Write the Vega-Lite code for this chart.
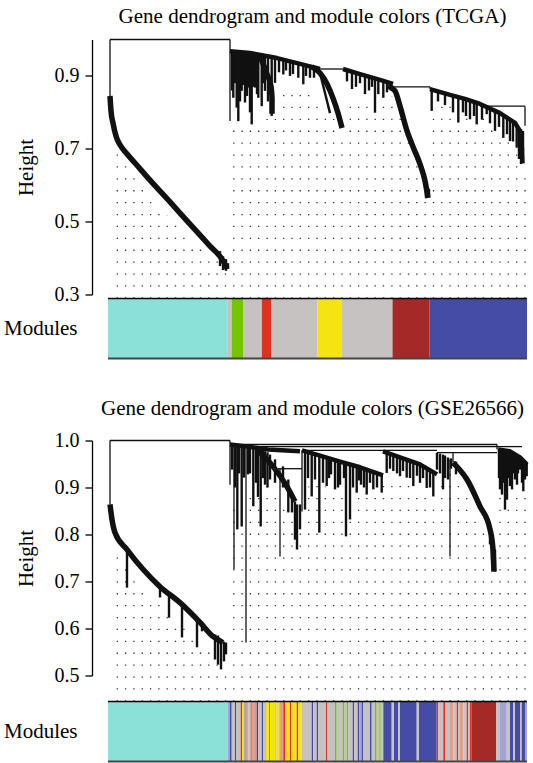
{
  "$schema": "https://vega.github.io/schema/vega-lite/v6.json",
  "padding": {"left": 3, "top": 5.5, "right": 0, "bottom": 0},
  "background": "white",
  "config": {"view": {"stroke": null}, "axis": {"grid": false}},
  "datasets": {
    "s1": [
      {"kind":"thin","x":2,"x2":122,"y":1.0,"y2":1.0},
      {"kind":"thin","x":2,"x2":2,"y":1.0,"y2":0.845},
      {"kind":"thin","x":122,"x2":122,"y":1.0,"y2":0.776},
      {"kind":"thin","x":212,"x2":235,"y":0.919,"y2":0.919},
      {"kind":"thin","x":285,"x2":322,"y":0.870,"y2":0.870},
      {"kind":"thin","x":322,"x2":322,"y":0.870,"y2":0.864},
      {"kind":"thin","x":372,"x2":417,"y":0.817,"y2":0.817},
      {"kind":"thin","x":417,"x2":417,"y":0.817,"y2":0.763},
      {"kind":"leaf","x":124,"x2":124,"y":0.967,"y2":0.86},
      {"kind":"leaf","x":125.3,"x2":125.3,"y":0.968,"y2":0.840},
      {"kind":"leaf","x":127,"x2":127,"y":0.967,"y2":0.88},
      {"kind":"leaf","x":128.7,"x2":128.7,"y":0.966,"y2":0.813},
      {"kind":"leaf","x":130.3,"x2":130.3,"y":0.964,"y2":0.776},
      {"kind":"leaf","x":132,"x2":132,"y":0.966,"y2":0.83},
      {"kind":"leaf","x":133.7,"x2":133.7,"y":0.963,"y2":0.859},
      {"kind":"leaf","x":135,"x2":135,"y":0.965,"y2":0.875},
      {"kind":"leaf","x":137,"x2":137,"y":0.963,"y2":0.827},
      {"kind":"leaf","x":139,"x2":139,"y":0.964,"y2":0.845},
      {"kind":"leaf","x":140.3,"x2":140.3,"y":0.962,"y2":0.868},
      {"kind":"leaf","x":142,"x2":142,"y":0.963,"y2":0.80},
      {"kind":"leaf","x":143.7,"x2":143.7,"y":0.960,"y2":0.767},
      {"kind":"leaf","x":145,"x2":145,"y":0.961,"y2":0.87},
      {"kind":"leaf","x":147,"x2":147,"y":0.957,"y2":0.868},
      {"kind":"leaf","x":149,"x2":149,"y":0.959,"y2":0.85},
      {"kind":"leaf","x":150.3,"x2":150.3,"y":0.955,"y2":0.840},
      {"kind":"leaf","x":153.7,"x2":153.7,"y":0.952,"y2":0.817},
      {"kind":"leaf","x":155,"x2":155,"y":0.956,"y2":0.88},
      {"kind":"leaf","x":157,"x2":157,"y":0.951,"y2":0.859},
      {"kind":"leaf","x":160,"x2":160,"y":0.953,"y2":0.83},
      {"kind":"leaf","x":163.7,"x2":163.7,"y":0.949,"y2":0.790},
      {"kind":"leaf","x":167,"x2":167,"y":0.951,"y2":0.881},
      {"kind":"leaf","x":171,"x2":171,"y":0.948,"y2":0.91},
      {"kind":"leaf","x":175.3,"x2":175.3,"y":0.945,"y2":0.904},
      {"kind":"leaf","x":178,"x2":178,"y":0.943,"y2":0.915},
      {"kind":"leaf","x":182,"x2":182,"y":0.940,"y2":0.900},
      {"kind":"leaf","x":185,"x2":185,"y":0.938,"y2":0.905},
      {"kind":"leaf","x":190.3,"x2":190.3,"y":0.934,"y2":0.895},
      {"kind":"leaf","x":195.3,"x2":195.3,"y":0.930,"y2":0.877},
      {"kind":"leaf","x":198,"x2":198,"y":0.929,"y2":0.90},
      {"kind":"leaf","x":202,"x2":202,"y":0.926,"y2":0.895},
      {"kind":"leaf","x":206,"x2":206,"y":0.923,"y2":0.895},
      {"kind":"leaf","x":212,"x2":222,"y":0.908,"y2":0.798},
      {"kind":"leaf","x":239,"x2":239,"y":0.916,"y2":0.885},
      {"kind":"leaf","x":244,"x2":244,"y":0.911,"y2":0.864},
      {"kind":"leaf","x":248,"x2":248,"y":0.908,"y2":0.87},
      {"kind":"leaf","x":252,"x2":252,"y":0.905,"y2":0.88},
      {"kind":"leaf","x":257,"x2":257,"y":0.901,"y2":0.850},
      {"kind":"leaf","x":261,"x2":261,"y":0.898,"y2":0.86},
      {"kind":"leaf","x":264,"x2":264,"y":0.895,"y2":0.87},
      {"kind":"leaf","x":267,"x2":267,"y":0.893,"y2":0.799},
      {"kind":"leaf","x":270.3,"x2":270.3,"y":0.890,"y2":0.850},
      {"kind":"leaf","x":275.3,"x2":275.3,"y":0.886,"y2":0.840},
      {"kind":"leaf","x":279,"x2":279,"y":0.883,"y2":0.855},
      {"kind":"leaf","x":283,"x2":283,"y":0.880,"y2":0.86},
      {"kind":"leaf","x":323.7,"x2":323.7,"y":0.863,"y2":0.804},
      {"kind":"leaf","x":330,"x2":330,"y":0.858,"y2":0.83},
      {"kind":"leaf","x":337,"x2":337,"y":0.852,"y2":0.82},
      {"kind":"leaf","x":345,"x2":345,"y":0.846,"y2":0.80},
      {"kind":"leaf","x":350.3,"x2":350.3,"y":0.841,"y2":0.772},
      {"kind":"leaf","x":355,"x2":355,"y":0.838,"y2":0.80},
      {"kind":"leaf","x":358,"x2":358,"y":0.836,"y2":0.79},
      {"kind":"leaf","x":362,"x2":362,"y":0.831,"y2":0.781},
      {"kind":"leaf","x":366,"x2":366,"y":0.829,"y2":0.79},
      {"kind":"leaf","x":368.7,"x2":368.7,"y":0.826,"y2":0.767},
      {"kind":"leaf","x":374,"x2":374,"y":0.820,"y2":0.78},
      {"kind":"leaf","x":378.7,"x2":378.7,"y":0.815,"y2":0.795},
      {"kind":"leaf","x":382,"x2":382,"y":0.811,"y2":0.77},
      {"kind":"leaf","x":387,"x2":387,"y":0.804,"y2":0.749},
      {"kind":"leaf","x":391,"x2":391,"y":0.799,"y2":0.76},
      {"kind":"leaf","x":395.3,"x2":395.3,"y":0.793,"y2":0.730},
      {"kind":"leaf","x":399,"x2":399,"y":0.786,"y2":0.74},
      {"kind":"leaf","x":402,"x2":402,"y":0.779,"y2":0.721},
      {"kind":"leaf","x":405,"x2":405,"y":0.775,"y2":0.72},
      {"kind":"leaf","x":408.7,"x2":408.7,"y":0.763,"y2":0.703},
      {"kind":"leaf","x":411,"x2":411,"y":0.754,"y2":0.672},
      {"kind":"leaf","x":413,"x2":413,"y":0.754,"y2":0.658},
      {"kind":"leaf","x":415,"x2":415,"y":0.749,"y2":0.694},
      {"kind":"leaf","x":112,"x2":112,"y":0.419,"y2":0.378},
      {"kind":"leaf","x":115,"x2":115,"y":0.405,"y2":0.367},
      {"kind":"leaf","x":118,"x2":118,"y":0.397,"y2":0.365},
      {"kind":"leaf","x":120,"x2":120,"y":0.386,"y2":0.370},
      {"kind":"leaf","x":318,"x2":318,"y":0.598,"y2":0.565},
      {"kind":"leaf","x":321,"x2":321,"y":0.590,"y2":0.568}
    ],
    "l1": [
      {"kind":"band","id":"L","i":0,"x":2,"y":0.845},
      {"kind":"band","id":"L","i":1,"x":3,"y":0.804},
      {"kind":"band","id":"L","i":2,"x":5,"y":0.771},
      {"kind":"band","id":"L","i":3,"x":8,"y":0.735},
      {"kind":"band","id":"L","i":4,"x":12,"y":0.711},
      {"kind":"band","id":"L","i":5,"x":18,"y":0.689},
      {"kind":"band","id":"L","i":6,"x":27,"y":0.661},
      {"kind":"band","id":"L","i":7,"x":42,"y":0.614},
      {"kind":"band","id":"L","i":8,"x":62,"y":0.554},
      {"kind":"band","id":"L","i":9,"x":82,"y":0.493},
      {"kind":"band","id":"L","i":10,"x":102,"y":0.433},
      {"kind":"band","id":"L","i":11,"x":114,"y":0.397},
      {"kind":"band","id":"L","i":12,"x":119,"y":0.372},
      {"kind":"band","id":"B1","i":0,"x":152,"y":0.955},
      {"kind":"band","id":"B1","i":1,"x":156,"y":0.927},
      {"kind":"band","id":"B1","i":2,"x":159,"y":0.905},
      {"kind":"band","id":"B1","i":3,"x":163,"y":0.872},
      {"kind":"band","id":"B1","i":4,"x":164,"y":0.839},
      {"kind":"band","id":"B1","i":5,"x":164,"y":0.796},
      {"kind":"band","id":"B2","i":0,"x":204,"y":0.925},
      {"kind":"band","id":"B2","i":1,"x":212,"y":0.908},
      {"kind":"band","id":"B2","i":2,"x":219,"y":0.878},
      {"kind":"band","id":"B2","i":3,"x":225,"y":0.839},
      {"kind":"band","id":"B2","i":4,"x":230,"y":0.798},
      {"kind":"band","id":"B2","i":5,"x":234,"y":0.757},
      {"kind":"band","id":"B3","i":0,"x":280,"y":0.872},
      {"kind":"band","id":"B3","i":1,"x":287,"y":0.859},
      {"kind":"band","id":"B3","i":2,"x":292,"y":0.817},
      {"kind":"band","id":"B3","i":3,"x":299,"y":0.749},
      {"kind":"band","id":"B3","i":4,"x":306,"y":0.699},
      {"kind":"band","id":"B3","i":5,"x":312,"y":0.658},
      {"kind":"band","id":"B3","i":6,"x":317,"y":0.612},
      {"kind":"band","id":"B3","i":7,"x":320,"y":0.565},
      {"kind":"env","id":"EA","i":0,"x":122,"y":0.968},
      {"kind":"env","id":"EA","i":1,"x":142,"y":0.963},
      {"kind":"env","id":"EA","i":2,"x":169,"y":0.949},
      {"kind":"env","id":"EA","i":3,"x":192,"y":0.933},
      {"kind":"env","id":"EA","i":4,"x":212,"y":0.919},
      {"kind":"env","id":"EB","i":0,"x":235,"y":0.919},
      {"kind":"env","id":"EB","i":1,"x":252,"y":0.905},
      {"kind":"env","id":"EB","i":2,"x":272,"y":0.889},
      {"kind":"env","id":"EB","i":3,"x":285,"y":0.878},
      {"kind":"env","id":"EC","i":0,"x":322,"y":0.864},
      {"kind":"env","id":"EC","i":1,"x":342,"y":0.848},
      {"kind":"env","id":"EC","i":2,"x":357,"y":0.837},
      {"kind":"env","id":"EC","i":3,"x":372,"y":0.823},
      {"kind":"env","id":"EC","i":4,"x":392,"y":0.798},
      {"kind":"env","id":"EC","i":5,"x":407,"y":0.771},
      {"kind":"env","id":"EC","i":6,"x":412,"y":0.749},
      {"kind":"env","id":"EC","i":7,"x":414,"y":0.700},
      {"kind":"env","id":"EC","i":8,"x":414.5,"y":0.660}
    ],
    "g1": [
      {"pos":9.3,"top":0.694,"base":0.289},{"pos":17.6,"top":0.658,"base":0.289},{"pos":25.9,"top":0.623,"base":0.289},{"pos":34.3,"top":0.592,"base":0.289},
      {"pos":42.6,"top":0.565,"base":0.289},{"pos":50.9,"top":0.540,"base":0.289},{"pos":59.2,"top":0.518,"base":0.289},{"pos":67.5,"top":0.496,"base":0.289},
      {"pos":75.9,"top":0.474,"base":0.289},{"pos":84.2,"top":0.452,"base":0.289},{"pos":92.5,"top":0.433,"base":0.289},{"pos":100.8,"top":0.414,"base":0.289},
      {"pos":109.1,"top":0.392,"base":0.289},{"pos":117.5,"top":0.363,"base":0.289},{"pos":125.8,"top":0.771,"base":0.289},{"pos":134.1,"top":0.771,"base":0.289},
      {"pos":142.4,"top":0.763,"base":0.289},{"pos":150.7,"top":0.776,"base":0.289},{"pos":159.1,"top":0.782,"base":0.289},{"pos":167.4,"top":0.782,"base":0.289},
      {"pos":175.7,"top":0.875,"base":0.289},{"pos":184.0,"top":0.875,"base":0.289},{"pos":192.3,"top":0.875,"base":0.289},{"pos":200.7,"top":0.875,"base":0.289},
      {"pos":209.0,"top":0.842,"base":0.289},{"pos":217.3,"top":0.809,"base":0.289},{"pos":225.6,"top":0.782,"base":0.289},{"pos":233.9,"top":0.743,"base":0.289},
      {"pos":242.3,"top":0.842,"base":0.289},{"pos":250.6,"top":0.842,"base":0.289},{"pos":258.9,"top":0.842,"base":0.289},{"pos":267.2,"top":0.790,"base":0.289},
      {"pos":275.5,"top":0.831,"base":0.289},{"pos":283.9,"top":0.845,"base":0.289},{"pos":292.2,"top":0.798,"base":0.289},{"pos":300.5,"top":0.727,"base":0.289},
      {"pos":308.8,"top":0.666,"base":0.289},{"pos":317.1,"top":0.598,"base":0.289},{"pos":325.5,"top":0.790,"base":0.289},{"pos":333.8,"top":0.831,"base":0.289},
      {"pos":342.1,"top":0.817,"base":0.289},{"pos":350.4,"top":0.765,"base":0.289},{"pos":358.7,"top":0.796,"base":0.289},{"pos":367.1,"top":0.763,"base":0.289},
      {"pos":375.4,"top":0.790,"base":0.289},{"pos":383.7,"top":0.763,"base":0.289},{"pos":392.0,"top":0.743,"base":0.289},{"pos":400.3,"top":0.721,"base":0.289},
      {"pos":408.7,"top":0.694,"base":0.289},{"pos":417.0,"top":0.645,"base":0.289}
    ],
    "b1": [
      {"start":0,"end":119.8,"module":"turquoise"},
      {"start":119.8,"end":123.6,"module":"grey"},
      {"start":123.6,"end":135,"module":"green"},
      {"start":135,"end":153.8,"module":"grey"},
      {"start":153.8,"end":163,"module":"red"},
      {"start":163,"end":209.5,"module":"grey"},
      {"start":209.5,"end":233.8,"module":"yellow"},
      {"start":233.8,"end":284.5,"module":"grey"},
      {"start":284.5,"end":321.4,"module":"brown"},
      {"start":321.4,"end":419,"module":"blue"}
    ],
    "s2": [
      {"kind":"thin","x":2,"x2":122,"y":1.0,"y2":1.0},
      {"kind":"thin","x":2,"x2":2,"y":1.0,"y2":0.864},
      {"kind":"thin","x":122,"x2":122,"y":1.0,"y2":0.906},
      {"kind":"thin","x":122,"x2":389,"y":0.9915,"y2":0.9915},
      {"kind":"thin","x":139,"x2":389,"y":0.987,"y2":0.987},
      {"kind":"thin","x":389,"x2":389,"y":0.9915,"y2":0.981},
      {"kind":"thin","x":194,"x2":329,"y":0.979,"y2":0.979},
      {"kind":"thin","x":329,"x2":389,"y":0.974,"y2":0.974},
      {"kind":"thin","x":170,"x2":194,"y":0.940,"y2":0.940},
      {"kind":"thin","x":126,"x2":126,"y":0.9915,"y2":0.726},
      {"kind":"thin","x":138,"x2":138,"y":0.987,"y2":0.570},
      {"kind":"thin","x":342,"x2":342,"y":0.960,"y2":0.753},
      {"kind":"thin","x":172,"x2":172,"y":0.940,"y2":0.753},
      {"kind":"thin","x":194,"x2":194,"y":0.979,"y2":0.849},
      {"kind":"thin","x":345,"x2":345,"y":0.974,"y2":0.953},
      {"kind":"thin","x":389,"x2":414,"y":0.987,"y2":0.987},
      {"kind":"leaf","x":19,"x2":19,"y":0.764,"y2":0.687},
      {"kind":"leaf","x":52,"x2":52,"y":0.687,"y2":0.666},
      {"kind":"leaf","x":61,"x2":61,"y":0.674,"y2":0.623},
      {"kind":"leaf","x":74,"x2":74,"y":0.655,"y2":0.581},
      {"kind":"leaf","x":89,"x2":89,"y":0.623,"y2":0.560},
      {"kind":"leaf","x":94,"x2":94,"y":0.615,"y2":0.594},
      {"kind":"leaf","x":107,"x2":107,"y":0.587,"y2":0.534},
      {"kind":"leaf","x":110,"x2":110,"y":0.585,"y2":0.523},
      {"kind":"leaf","x":113,"x2":113,"y":0.577,"y2":0.513},
      {"kind":"leaf","x":116,"x2":116,"y":0.572,"y2":0.530},
      {"kind":"leaf","x":118,"x2":118,"y":0.570,"y2":0.545},
      {"kind":"leaf","x":124,"x2":124,"y":0.989,"y2":0.938},
      {"kind":"leaf","x":127,"x2":127,"y":0.989,"y2":0.90},
      {"kind":"leaf","x":129.3,"x2":129.3,"y":0.987,"y2":0.811},
      {"kind":"leaf","x":131,"x2":131,"y":0.988,"y2":0.93},
      {"kind":"leaf","x":133.7,"x2":133.7,"y":0.987,"y2":0.817},
      {"kind":"leaf","x":136,"x2":136,"y":0.989,"y2":0.921},
      {"kind":"leaf","x":140,"x2":140,"y":0.987,"y2":0.928},
      {"kind":"leaf","x":142,"x2":142,"y":0.986,"y2":0.93},
      {"kind":"leaf","x":145.3,"x2":145.3,"y":0.985,"y2":0.860},
      {"kind":"leaf","x":148,"x2":148,"y":0.984,"y2":0.91},
      {"kind":"leaf","x":150,"x2":150,"y":0.983,"y2":0.88},
      {"kind":"leaf","x":152.7,"x2":152.7,"y":0.983,"y2":0.817},
      {"kind":"leaf","x":155,"x2":155,"y":0.980,"y2":0.92},
      {"kind":"leaf","x":157,"x2":157,"y":0.977,"y2":0.906},
      {"kind":"leaf","x":159.5,"x2":159.5,"y":0.975,"y2":0.90},
      {"kind":"leaf","x":162,"x2":162,"y":0.970,"y2":0.917},
      {"kind":"leaf","x":167,"x2":167,"y":0.960,"y2":0.91},
      {"kind":"leaf","x":175,"x2":175,"y":0.945,"y2":0.90},
      {"kind":"leaf","x":180.3,"x2":180.3,"y":0.917,"y2":0.847},
      {"kind":"leaf","x":184,"x2":184,"y":0.874,"y2":0.847},
      {"kind":"leaf","x":187,"x2":187,"y":0.870,"y2":0.789},
      {"kind":"leaf","x":189,"x2":189,"y":0.864,"y2":0.768},
      {"kind":"leaf","x":192,"x2":192,"y":0.864,"y2":0.811},
      {"kind":"leaf","x":197,"x2":197,"y":0.977,"y2":0.853},
      {"kind":"leaf","x":200,"x2":200,"y":0.975,"y2":0.92},
      {"kind":"leaf","x":203.7,"x2":203.7,"y":0.970,"y2":0.881},
      {"kind":"leaf","x":207,"x2":207,"y":0.968,"y2":0.917},
      {"kind":"leaf","x":211.3,"x2":211.3,"y":0.966,"y2":0.804},
      {"kind":"leaf","x":215,"x2":215,"y":0.965,"y2":0.91},
      {"kind":"leaf","x":218.7,"x2":218.7,"y":0.960,"y2":0.903},
      {"kind":"leaf","x":221,"x2":221,"y":0.960,"y2":0.92},
      {"kind":"leaf","x":223,"x2":223,"y":0.957,"y2":0.928},
      {"kind":"leaf","x":227,"x2":227,"y":0.955,"y2":0.896},
      {"kind":"leaf","x":230,"x2":230,"y":0.955,"y2":0.90},
      {"kind":"leaf","x":232,"x2":232,"y":0.953,"y2":0.906},
      {"kind":"leaf","x":236,"x2":236,"y":0.951,"y2":0.92},
      {"kind":"leaf","x":238,"x2":238,"y":0.949,"y2":0.796},
      {"kind":"leaf","x":242,"x2":242,"y":0.947,"y2":0.832},
      {"kind":"leaf","x":245,"x2":245,"y":0.946,"y2":0.90},
      {"kind":"leaf","x":248.7,"x2":248.7,"y":0.943,"y2":0.889},
      {"kind":"leaf","x":251,"x2":251,"y":0.942,"y2":0.915},
      {"kind":"leaf","x":253,"x2":253,"y":0.940,"y2":0.906},
      {"kind":"leaf","x":256,"x2":256,"y":0.938,"y2":0.90},
      {"kind":"leaf","x":258.7,"x2":258.7,"y":0.936,"y2":0.885},
      {"kind":"leaf","x":262,"x2":262,"y":0.934,"y2":0.91},
      {"kind":"leaf","x":265.3,"x2":265.3,"y":0.932,"y2":0.896},
      {"kind":"leaf","x":269,"x2":269,"y":0.930,"y2":0.90},
      {"kind":"leaf","x":273.7,"x2":273.7,"y":0.928,"y2":0.889},
      {"kind":"leaf","x":278.7,"x2":278.7,"y":0.974,"y2":0.931},
      {"kind":"leaf","x":282,"x2":282,"y":0.972,"y2":0.94},
      {"kind":"leaf","x":285.3,"x2":285.3,"y":0.970,"y2":0.935},
      {"kind":"leaf","x":289,"x2":289,"y":0.967,"y2":0.93},
      {"kind":"leaf","x":292,"x2":292,"y":0.964,"y2":0.924},
      {"kind":"leaf","x":295,"x2":295,"y":0.962,"y2":0.935},
      {"kind":"leaf","x":298.7,"x2":298.7,"y":0.957,"y2":0.921},
      {"kind":"leaf","x":302,"x2":302,"y":0.955,"y2":0.92},
      {"kind":"leaf","x":305.3,"x2":305.3,"y":0.953,"y2":0.903},
      {"kind":"leaf","x":309,"x2":309,"y":0.951,"y2":0.925},
      {"kind":"leaf","x":312,"x2":312,"y":0.949,"y2":0.910},
      {"kind":"leaf","x":315,"x2":315,"y":0.944,"y2":0.92},
      {"kind":"leaf","x":318.7,"x2":318.7,"y":0.938,"y2":0.899},
      {"kind":"leaf","x":322,"x2":322,"y":0.934,"y2":0.90},
      {"kind":"leaf","x":325.3,"x2":325.3,"y":0.930,"y2":0.881},
      {"kind":"leaf","x":329,"x2":329,"y":0.974,"y2":0.938},
      {"kind":"leaf","x":332,"x2":332,"y":0.972,"y2":0.93},
      {"kind":"leaf","x":335,"x2":335,"y":0.970,"y2":0.896},
      {"kind":"leaf","x":337,"x2":337,"y":0.968,"y2":0.92},
      {"kind":"leaf","x":340,"x2":340,"y":0.964,"y2":0.917},
      {"kind":"leaf","x":343,"x2":343,"y":0.962,"y2":0.94},
      {"kind":"leaf","x":348,"x2":348,"y":0.955,"y2":0.928},
      {"kind":"leaf","x":382,"x2":382,"y":0.811,"y2":0.779},
      {"kind":"leaf","x":384,"x2":384,"y":0.789,"y2":0.747},
      {"kind":"leaf","x":387,"x2":387,"y":0.768,"y2":0.721},
      {"kind":"leaf","x":391,"x2":391,"y":0.981,"y2":0.92},
      {"kind":"leaf","x":392,"x2":392,"y":0.981,"y2":0.896},
      {"kind":"leaf","x":394,"x2":394,"y":0.981,"y2":0.885},
      {"kind":"leaf","x":396,"x2":396,"y":0.980,"y2":0.91},
      {"kind":"leaf","x":397,"x2":397,"y":0.979,"y2":0.853},
      {"kind":"leaf","x":399,"x2":399,"y":0.979,"y2":0.874},
      {"kind":"leaf","x":401,"x2":401,"y":0.978,"y2":0.92},
      {"kind":"leaf","x":402,"x2":402,"y":0.977,"y2":0.903},
      {"kind":"leaf","x":404,"x2":404,"y":0.977,"y2":0.896},
      {"kind":"leaf","x":406,"x2":406,"y":0.974,"y2":0.93},
      {"kind":"leaf","x":407,"x2":407,"y":0.972,"y2":0.917},
      {"kind":"leaf","x":409,"x2":409,"y":0.970,"y2":0.906},
      {"kind":"leaf","x":410,"x2":410,"y":0.968,"y2":0.93},
      {"kind":"leaf","x":412,"x2":412,"y":0.964,"y2":0.938},
      {"kind":"leaf","x":414,"x2":414,"y":0.962,"y2":0.91},
      {"kind":"leaf","x":415.3,"x2":415.3,"y":0.960,"y2":0.892},
      {"kind":"leaf","x":417,"x2":417,"y":0.957,"y2":0.917},
      {"kind":"leaf","x":418.7,"x2":418.7,"y":0.953,"y2":0.924}
    ],
    "l2": [
      {"kind":"band","id":"LB","i":0,"x":2,"y":0.864},
      {"kind":"band","id":"LB","i":1,"x":4,"y":0.832},
      {"kind":"band","id":"LB","i":2,"x":7,"y":0.804},
      {"kind":"band","id":"LB","i":3,"x":19,"y":0.768},
      {"kind":"band","id":"LB","i":4,"x":35,"y":0.726},
      {"kind":"band","id":"LB","i":5,"x":52,"y":0.689},
      {"kind":"band","id":"LB","i":6,"x":72,"y":0.655},
      {"kind":"band","id":"LB","i":7,"x":92,"y":0.613},
      {"kind":"band","id":"LB","i":8,"x":105,"y":0.583},
      {"kind":"band","id":"LB","i":9,"x":115,"y":0.570},
      {"kind":"band","id":"R1","i":0,"x":149,"y":0.981},
      {"kind":"band","id":"R1","i":1,"x":165,"y":0.945},
      {"kind":"band","id":"R1","i":2,"x":179,"y":0.902},
      {"kind":"band","id":"R1","i":3,"x":187,"y":0.870},
      {"kind":"band","id":"R4","i":0,"x":345,"y":0.953},
      {"kind":"band","id":"R4","i":1,"x":359,"y":0.917},
      {"kind":"band","id":"R4","i":2,"x":372,"y":0.860},
      {"kind":"band","id":"R4","i":3,"x":382,"y":0.811},
      {"kind":"band","id":"R4","i":4,"x":385,"y":0.768},
      {"kind":"band","id":"R4","i":5,"x":386,"y":0.721},
      {"kind":"env","id":"E1","i":0,"x":122,"y":0.9915},
      {"kind":"env","id":"E1","i":1,"x":140,"y":0.987},
      {"kind":"env","id":"E1","i":2,"x":160,"y":0.981},
      {"kind":"env","id":"E1","i":3,"x":192,"y":0.977},
      {"kind":"env","id":"E2","i":0,"x":194,"y":0.979},
      {"kind":"env","id":"E2","i":1,"x":212,"y":0.968},
      {"kind":"env","id":"E2","i":2,"x":232,"y":0.955},
      {"kind":"env","id":"E2","i":3,"x":252,"y":0.943},
      {"kind":"env","id":"E2","i":4,"x":275,"y":0.926},
      {"kind":"env","id":"E3","i":0,"x":275,"y":0.977},
      {"kind":"env","id":"E3","i":1,"x":292,"y":0.964},
      {"kind":"env","id":"E3","i":2,"x":312,"y":0.949},
      {"kind":"env","id":"E3","i":3,"x":329,"y":0.928},
      {"kind":"env","id":"E5","i":0,"x":390,"y":0.981},
      {"kind":"env","id":"E5","i":1,"x":402,"y":0.977},
      {"kind":"env","id":"E5","i":2,"x":412,"y":0.964},
      {"kind":"env","id":"E5","i":3,"x":419,"y":0.949}
    ],
    "g2": [
      {"pos":9.3,"top":0.757,"base":0.4447},{"pos":17.6,"top":0.736,"base":0.4447},{"pos":25.9,"top":0.715,"base":0.4447},{"pos":34.3,"top":0.694,"base":0.4447},
      {"pos":42.6,"top":0.672,"base":0.4447},{"pos":50.9,"top":0.651,"base":0.4447},{"pos":59.2,"top":0.636,"base":0.4447},{"pos":67.5,"top":0.619,"base":0.4447},
      {"pos":75.9,"top":0.602,"base":0.4447},{"pos":84.2,"top":0.585,"base":0.4447},{"pos":92.5,"top":0.566,"base":0.4447},{"pos":100.8,"top":0.551,"base":0.4447},
      {"pos":109.1,"top":0.523,"base":0.4447},{"pos":117.5,"top":0.502,"base":0.4447},{"pos":125.8,"top":0.874,"base":0.4447},{"pos":134.1,"top":0.885,"base":0.4447},
      {"pos":142.4,"top":0.896,"base":0.4447},{"pos":150.7,"top":0.900,"base":0.4447},{"pos":159.1,"top":0.911,"base":0.4447},{"pos":167.4,"top":0.896,"base":0.4447},
      {"pos":175.7,"top":0.874,"base":0.4447},{"pos":184.0,"top":0.832,"base":0.4447},{"pos":192.3,"top":0.811,"base":0.4447},{"pos":200.7,"top":0.902,"base":0.4447},
      {"pos":209.0,"top":0.906,"base":0.4447},{"pos":217.3,"top":0.902,"base":0.4447},{"pos":225.6,"top":0.896,"base":0.4447},{"pos":233.9,"top":0.885,"base":0.4447},
      {"pos":242.3,"top":0.879,"base":0.4447},{"pos":250.6,"top":0.885,"base":0.4447},{"pos":258.9,"top":0.881,"base":0.4447},{"pos":267.2,"top":0.881,"base":0.4447},
      {"pos":275.5,"top":0.906,"base":0.4447},{"pos":283.9,"top":0.913,"base":0.4447},{"pos":292.2,"top":0.913,"base":0.4447},{"pos":300.5,"top":0.906,"base":0.4447},
      {"pos":308.8,"top":0.900,"base":0.4447},{"pos":317.1,"top":0.891,"base":0.4447},{"pos":325.5,"top":0.874,"base":0.4447},{"pos":333.8,"top":0.917,"base":0.4447},
      {"pos":342.1,"top":0.928,"base":0.4447},{"pos":350.4,"top":0.917,"base":0.4447},{"pos":358.7,"top":0.891,"base":0.4447},{"pos":367.1,"top":0.849,"base":0.4447},
      {"pos":375.4,"top":0.811,"base":0.4447},{"pos":383.7,"top":0.736,"base":0.4447},{"pos":392.0,"top":0.891,"base":0.4447},{"pos":400.3,"top":0.874,"base":0.4447},
      {"pos":408.7,"top":0.896,"base":0.4447},{"pos":417.0,"top":0.885,"base":0.4447}
    ],
    "b2": [
      {"start":0,"end":119.7,"module":"turquoise"},
      {"start":119.7,"end":122,"module":"lavender"},
      {"start":122,"end":123.7,"module":"blue"},
      {"start":123.7,"end":127,"module":"grey"},
      {"start":127,"end":128,"module":"blue"},
      {"start":128,"end":132.7,"module":"grey"},
      {"start":132.7,"end":134,"module":"red"},
      {"start":134,"end":136,"module":"yellow"},
      {"start":136,"end":138,"module":"lavender"},
      {"start":138,"end":140.3,"module":"salmon"},
      {"start":140.3,"end":142.7,"module":"grey"},
      {"start":142.7,"end":143.7,"module":"red"},
      {"start":143.7,"end":147,"module":"salmon"},
      {"start":147,"end":148.7,"module":"lavender"},
      {"start":148.7,"end":150.3,"module":"brown"},
      {"start":150.3,"end":153.7,"module":"grey"},
      {"start":153.7,"end":155.3,"module":"blue"},
      {"start":155.3,"end":158,"module":"grey"},
      {"start":158,"end":161.3,"module":"yellow"},
      {"start":161.3,"end":162,"module":"blue"},
      {"start":162,"end":167,"module":"yellow"},
      {"start":167,"end":168.7,"module":"grey"},
      {"start":168.7,"end":171.3,"module":"yellow"},
      {"start":171.3,"end":175.3,"module":"salmon"},
      {"start":175.3,"end":177,"module":"red"},
      {"start":177,"end":182,"module":"yellow"},
      {"start":182,"end":183,"module":"red"},
      {"start":183,"end":188.7,"module":"yellow"},
      {"start":188.7,"end":190.3,"module":"red"},
      {"start":190.3,"end":193.7,"module":"yellow"},
      {"start":193.7,"end":203.7,"module":"grey"},
      {"start":203.7,"end":205.3,"module":"blue"},
      {"start":205.3,"end":208.7,"module":"grey"},
      {"start":208.7,"end":210.3,"module":"blue"},
      {"start":210.3,"end":218,"module":"grey"},
      {"start":218,"end":219.3,"module":"red"},
      {"start":219.3,"end":227,"module":"grey"},
      {"start":227,"end":228.7,"module":"green"},
      {"start":228.7,"end":234.7,"module":"grey"},
      {"start":234.7,"end":236,"module":"green"},
      {"start":236,"end":238.7,"module":"grey"},
      {"start":238.7,"end":240.3,"module":"green"},
      {"start":240.3,"end":244.7,"module":"grey"},
      {"start":244.7,"end":246.3,"module":"blue"},
      {"start":246.3,"end":249.7,"module":"grey"},
      {"start":249.7,"end":251.3,"module":"blue"},
      {"start":251.3,"end":253.7,"module":"lavender"},
      {"start":253.7,"end":255.3,"module":"blue"},
      {"start":255.3,"end":262,"module":"grey"},
      {"start":262,"end":263.7,"module":"blue"},
      {"start":263.7,"end":267,"module":"grey"},
      {"start":267,"end":268.7,"module":"green"},
      {"start":268.7,"end":271.3,"module":"grey"},
      {"start":271.3,"end":272.7,"module":"green"},
      {"start":272.7,"end":275.3,"module":"grey"},
      {"start":275.3,"end":283.7,"module":"blue"},
      {"start":283.7,"end":286,"module":"grey"},
      {"start":286,"end":290.3,"module":"blue"},
      {"start":290.3,"end":292,"module":"grey"},
      {"start":292,"end":308.7,"module":"blue"},
      {"start":308.7,"end":311,"module":"grey"},
      {"start":311,"end":328.7,"module":"blue"},
      {"start":328.7,"end":330.3,"module":"red"},
      {"start":330.3,"end":335.3,"module":"grey"},
      {"start":335.3,"end":337,"module":"red"},
      {"start":337,"end":342,"module":"grey"},
      {"start":342,"end":345.3,"module":"salmon"},
      {"start":345.3,"end":348.7,"module":"grey"},
      {"start":348.7,"end":350.3,"module":"red"},
      {"start":350.3,"end":352,"module":"grey"},
      {"start":352,"end":355.3,"module":"salmon"},
      {"start":355.3,"end":358.7,"module":"grey"},
      {"start":358.7,"end":360.3,"module":"red"},
      {"start":360.3,"end":362,"module":"grey"},
      {"start":362,"end":363.7,"module":"red"},
      {"start":363.7,"end":388,"module":"brown"},
      {"start":388,"end":392,"module":"grey"},
      {"start":392,"end":398.7,"module":"lavender"},
      {"start":398.7,"end":402,"module":"grey"},
      {"start":402,"end":405.3,"module":"blue"},
      {"start":405.3,"end":407,"module":"grey"},
      {"start":407,"end":412,"module":"blue"},
      {"start":412,"end":413.7,"module":"grey"},
      {"start":413.7,"end":417,"module":"blue"},
      {"start":417,"end":419,"module":"lavender"}
    ]
  },
  "spacing": 38,
  "vconcat": [
    {
      "bounds": "flush",
      "spacing": 0,
      "vconcat": [
        {
          "title": {"text": "Gene dendrogram and module colors (TCGA)", "font": "Liberation Serif", "fontSize": 21, "fontWeight": "normal", "color": "black", "anchor": "middle", "frame": "group", "dx": -5, "offset": 12},
          "width": 419,
          "height": 259,
          "layer": [
            {
              "data": {"name": "g1"},
              "mark": {"type": "rule", "stroke": "#333", "strokeWidth": 1.3, "strokeDash": [1.3, 10.6]},
              "encoding": {
                "x": {"field": "pos", "type": "quantitative", "scale": {"domain": [0, 419], "nice": false, "zero": false}, "axis": null},
                "y": {"field": "base", "type": "quantitative", "scale": {"domain": [0.3, 1.0], "range": [255, 0], "nice": false, "zero": false},
                  "axis": {"title": "Height", "values": [0.3, 0.4, 0.5, 0.6, 0.7, 0.8, 0.9, 1.0], "labelExpr": "round(datum.value*10) % 2 == 1 ? format(datum.value, '.1f') : ''", "domainColor": "black", "domainWidth": 1.3, "tickColor": "black", "tickWidth": 1.3, "tickSize": 7, "labelFont": "Liberation Serif", "labelFontSize": 20, "labelColor": "black", "labelPadding": 6, "labelFlush": false, "labelOverlap": false, "titleFont": "Liberation Serif", "titleFontSize": 21, "titleFontWeight": "normal", "titleColor": "black", "titlePadding": 18, "offset": 16}},
                "y2": {"field": "top"}
              }
            },
            {
              "data": {"name": "s1"},
              "transform": [{"filter": "datum.kind == 'thin'"}],
              "mark": {"type": "rule", "stroke": "#111", "strokeWidth": 1.3},
              "encoding": {
                "x": {"field": "x", "type": "quantitative"},
                "x2": {"field": "x2"},
                "y": {"field": "y", "type": "quantitative"},
                "y2": {"field": "y2"}
              }
            },
            {
              "data": {"name": "s1"},
              "transform": [{"filter": "datum.kind == 'leaf'"}],
              "mark": {"type": "rule", "stroke": "#111", "strokeWidth": 2.4},
              "encoding": {
                "x": {"field": "x", "type": "quantitative"},
                "x2": {"field": "x2"},
                "y": {"field": "y", "type": "quantitative"},
                "y2": {"field": "y2"}
              }
            },
            {
              "data": {"name": "l1"},
              "transform": [{"filter": "datum.kind == 'band'"}],
              "mark": {"type": "line", "stroke": "#111", "strokeWidth": 5.5, "strokeJoin": "round", "interpolate": "monotone"},
              "encoding": {
                "x": {"field": "x", "type": "quantitative"},
                "y": {"field": "y", "type": "quantitative"},
                "detail": {"field": "id", "type": "nominal"},
                "order": {"field": "i", "type": "quantitative"}
              }
            },
            {
              "data": {"name": "l1"},
              "transform": [{"filter": "datum.kind == 'env'"}],
              "mark": {"type": "line", "stroke": "#111", "strokeWidth": 4.5, "strokeJoin": "round"},
              "encoding": {
                "x": {"field": "x", "type": "quantitative"},
                "y": {"field": "y", "type": "quantitative"},
                "detail": {"field": "id", "type": "nominal"},
                "order": {"field": "i", "type": "quantitative"}
              }
            }
          ]
        },
        {
          "width": 419,
          "height": 60,
          "layer": [
            {
              "data": {"name": "b1"},
              "mark": {"type": "rect"},
              "encoding": {
                "x": {"field": "start", "type": "quantitative", "scale": {"domain": [0, 419], "nice": false, "zero": false}, "axis": null},
                "x2": {"field": "end"},
                "y": {"datum": 0, "type": "quantitative", "scale": {"domain": [0, 1], "nice": false},
                  "axis": {"title": "Modules", "titleAngle": 0, "titleAlign": "right", "titleBaseline": "middle", "titlePadding": 31, "labels": false, "ticks": false, "domain": false, "titleFont": "Liberation Serif", "titleFontSize": 21, "titleFontWeight": "normal", "titleColor": "black"}},
                "y2": {"datum": 1},
                "color": {"field": "module", "type": "nominal", "legend": null,
                  "scale": {"domain": ["turquoise", "grey", "green", "red", "yellow", "brown", "blue", "lavender", "salmon"], "range": ["#8BE0D8", "#C6C2C1", "#76C400", "#E0301E", "#F5E411", "#A52A27", "#444CA5", "#A4A3D3", "#E0A08F"]}}
              }
            },
            {
              "data": {"values": [{"edge": "top"}]},
              "mark": {"type": "rule", "stroke": "black", "strokeWidth": 1.5},
              "encoding": {"y": {"datum": 1, "type": "quantitative"}}
            },
            {
              "data": {"values": [{"edge": "bottom"}]},
              "mark": {"type": "rule", "stroke": "#444", "strokeWidth": 2},
              "encoding": {"y": {"datum": 0, "type": "quantitative"}}
            }
          ]
        }
      ]
    },
    {
      "bounds": "flush",
      "spacing": 0,
      "vconcat": [
        {
          "title": {"text": "Gene dendrogram and module colors (GSE26566)", "font": "Liberation Serif", "fontSize": 21, "fontWeight": "normal", "color": "black", "anchor": "middle", "frame": "group", "dx": -5, "offset": 12},
          "width": 419,
          "height": 261,
          "layer": [
            {
              "data": {"name": "g2"},
              "mark": {"type": "rule", "stroke": "#333", "strokeWidth": 1.3, "strokeDash": [1.3, 10.6]},
              "encoding": {
                "x": {"field": "pos", "type": "quantitative", "scale": {"domain": [0, 419], "nice": false, "zero": false}, "axis": null},
                "y": {"field": "base", "type": "quantitative", "scale": {"domain": [0.5, 1.0], "range": [235, 0], "nice": false, "zero": false},
                  "axis": {"title": "Height", "values": [0.5, 0.6, 0.7, 0.8, 0.9, 1.0], "format": ".1f", "domainColor": "black", "domainWidth": 1.3, "tickColor": "black", "tickWidth": 1.3, "tickSize": 7, "labelFont": "Liberation Serif", "labelFontSize": 20, "labelColor": "black", "labelPadding": 6, "labelFlush": false, "labelOverlap": false, "titleFont": "Liberation Serif", "titleFontSize": 21, "titleFontWeight": "normal", "titleColor": "black", "titlePadding": 18, "offset": 16}},
                "y2": {"field": "top"}
              }
            },
            {
              "data": {"name": "s2"},
              "transform": [{"filter": "datum.kind == 'thin'"}],
              "mark": {"type": "rule", "stroke": "#111", "strokeWidth": 1.3},
              "encoding": {
                "x": {"field": "x", "type": "quantitative"},
                "x2": {"field": "x2"},
                "y": {"field": "y", "type": "quantitative"},
                "y2": {"field": "y2"}
              }
            },
            {
              "data": {"name": "s2"},
              "transform": [{"filter": "datum.kind == 'leaf'"}],
              "mark": {"type": "rule", "stroke": "#111", "strokeWidth": 2.4},
              "encoding": {
                "x": {"field": "x", "type": "quantitative"},
                "x2": {"field": "x2"},
                "y": {"field": "y", "type": "quantitative"},
                "y2": {"field": "y2"}
              }
            },
            {
              "data": {"name": "l2"},
              "transform": [{"filter": "datum.kind == 'band'"}],
              "mark": {"type": "line", "stroke": "#111", "strokeWidth": 5.5, "strokeJoin": "round", "interpolate": "monotone"},
              "encoding": {
                "x": {"field": "x", "type": "quantitative"},
                "y": {"field": "y", "type": "quantitative"},
                "detail": {"field": "id", "type": "nominal"},
                "order": {"field": "i", "type": "quantitative"}
              }
            },
            {
              "data": {"name": "l2"},
              "transform": [{"filter": "datum.kind == 'env'"}],
              "mark": {"type": "line", "stroke": "#111", "strokeWidth": 4.5, "strokeJoin": "round"},
              "encoding": {
                "x": {"field": "x", "type": "quantitative"},
                "y": {"field": "y", "type": "quantitative"},
                "detail": {"field": "id", "type": "nominal"},
                "order": {"field": "i", "type": "quantitative"}
              }
            }
          ]
        },
        {
          "width": 419,
          "height": 60,
          "layer": [
            {
              "data": {"name": "b2"},
              "mark": {"type": "rect"},
              "encoding": {
                "x": {"field": "start", "type": "quantitative", "scale": {"domain": [0, 419], "nice": false, "zero": false}, "axis": null},
                "x2": {"field": "end"},
                "y": {"datum": 0, "type": "quantitative", "scale": {"domain": [0, 1], "nice": false},
                  "axis": {"title": "Modules", "titleAngle": 0, "titleAlign": "right", "titleBaseline": "middle", "titlePadding": 31, "labels": false, "ticks": false, "domain": false, "titleFont": "Liberation Serif", "titleFontSize": 21, "titleFontWeight": "normal", "titleColor": "black"}},
                "y2": {"datum": 1},
                "color": {"field": "module", "type": "nominal", "legend": null,
                  "scale": {"domain": ["turquoise", "grey", "green", "red", "yellow", "brown", "blue", "lavender", "salmon"], "range": ["#8BE0D8", "#C6C2C1", "#76C400", "#E0301E", "#F5E411", "#A52A27", "#444CA5", "#A4A3D3", "#E0A08F"]}}
              }
            },
            {
              "data": {"values": [{"edge": "top"}]},
              "mark": {"type": "rule", "stroke": "black", "strokeWidth": 1.5},
              "encoding": {"y": {"datum": 1, "type": "quantitative"}}
            },
            {
              "data": {"values": [{"edge": "bottom"}]},
              "mark": {"type": "rule", "stroke": "#444", "strokeWidth": 2},
              "encoding": {"y": {"datum": 0, "type": "quantitative"}}
            }
          ]
        }
      ]
    }
  ]
}
